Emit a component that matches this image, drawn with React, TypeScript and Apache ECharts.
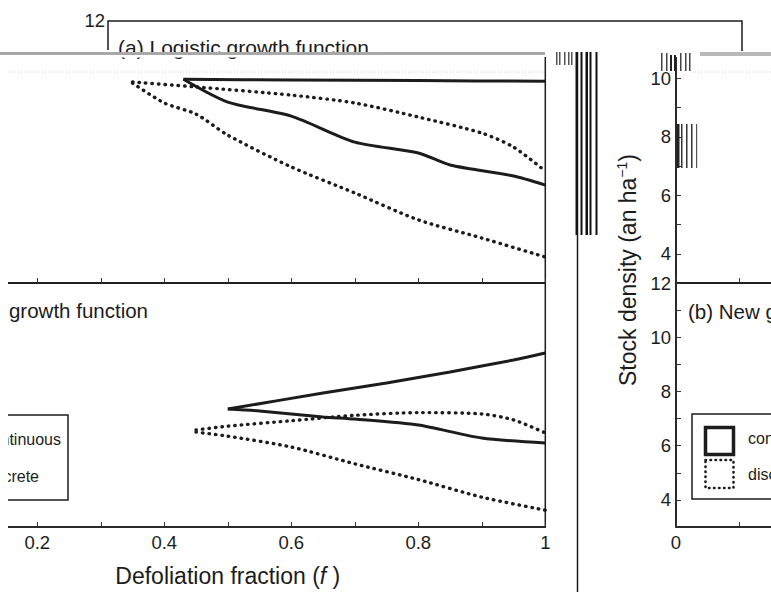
import React, { useEffect, useRef } from 'react';
import * as echarts from 'echarts';

// ---------- data ----------
const xTickLabels = [0, 0.2, 0.4, 0.6, 0.8, 1];
const yTickLabels = [4, 6, 8, 10, 12];

// (a) Logistic growth function
const logisticContinuousUpper: [number, number][] = [[0.43, 9.97], [0.6, 9.95], [0.8, 9.93], [1.0, 9.9]];
const logisticContinuousLower: [number, number][] = [[0.43, 9.97], [0.5, 9.19], [0.6, 8.71], [0.7, 7.82], [0.8, 7.45], [0.85, 7.04], [0.95, 6.66], [1.0, 6.35]];
const logisticDiscreteUpper: [number, number][] = [[0.35, 9.88], [0.45, 9.71], [0.6, 9.43], [0.7, 9.16], [0.8, 8.68], [0.9, 8.13], [0.95, 7.65], [1.0, 6.83]];
const logisticDiscreteLower: [number, number][] = [[0.35, 9.84], [0.4, 9.16], [0.45, 8.78], [0.5, 8.06], [0.6, 6.97], [0.7, 6.08], [0.8, 5.16], [0.9, 4.54], [1.0, 3.89]];

// (b) New growth function
const newContinuousUpper: [number, number][] = [[0.5, 7.35], [0.65, 7.94], [0.75, 8.31], [0.85, 8.72], [0.95, 9.16], [1.0, 9.42]];
const newContinuousLower: [number, number][] = [[0.5, 7.35], [0.55, 7.28], [0.65, 7.06], [0.7, 6.98], [0.8, 6.76], [0.9, 6.28], [1.0, 6.1]];
const newDiscreteUpper: [number, number][] = [[0.45, 6.58], [0.5, 6.72], [0.6, 6.92], [0.7, 7.12], [0.8, 7.22], [0.9, 7.17], [0.95, 6.95], [1.0, 6.47]];
const newDiscreteLower: [number, number][] = [[0.45, 6.5], [0.5, 6.35], [0.6, 5.95], [0.7, 5.33], [0.8, 4.75], [0.9, 4.1], [1.0, 3.62]];

const legendNames = ['continuous', 'discrete'];

const FONT = '"Liberation Sans", Arial, Helvetica, sans-serif';
const INK = '#1c1c1c';

export default function App() {
  const ref = useRef<HTMLDivElement>(null);
  useEffect(() => {
    if (!ref.current) return;
    const chart = echarts.init(ref.current, undefined, { renderer: 'svg' });

    const PW = 635; // plot width in px
    const leftL = -89.7; // wrapped copy (left part of picture)
    const leftR = 676; // original y axis position
    const grids = [
      { left: leftL, top: 20, width: PW, height: 263 },
      { left: leftR, top: 20, width: PW, height: 263 },
      { left: leftL, top: 283, width: PW, height: 244 },
      { left: leftR, top: 283, width: PW, height: 244 },
    ].map((g) => ({
      ...g,
      show: true,
      borderColor: INK,
      borderWidth: 1.5,
      backgroundColor: 'transparent',
      containLabel: false,
      outerBoundsMode: 'none',
    }));

    const xAxis = grids.map((_, i) => ({
      type: 'value',
      gridIndex: i,
      min: 0,
      max: 1,
      interval: 0.1,
      axisLine: { show: true, onZero: false, lineStyle: { color: INK, width: 1.5 } },
      axisTick: { show: true, inside: true, length: 5, lineStyle: { color: '#333', width: 1 } },
      splitLine: { show: false },
      axisLabel: {
        show: i >= 2,
        margin: 6,
        fontSize: 18.5,
        fontFamily: FONT,
        color: INK,
        showMinLabel: true,
        showMaxLabel: true,
        formatter: (v: number) => {
          const r = Math.round(v * 10) / 10;
          return xTickLabels.includes(r) ? String(r) : '';
        },
      },
      name: i === 2 ? 'Defoliation fraction ({i|f} )' : '',
      nameLocation: 'middle',
      nameGap: 37,
      nameTextStyle: {
        fontSize: 23,
        fontFamily: FONT,
        color: INK,
        rich: { i: { fontSize: 23, fontFamily: FONT, fontStyle: 'italic', color: INK } },
      },
    }));

    const yAxis = grids.map((_, i) => ({
      type: 'value',
      gridIndex: i,
      min: 3,
      max: 12,
      interval: 1,
      axisLine: { show: true, onZero: false, lineStyle: { color: INK, width: 1.5 } },
      axisTick: { show: true, inside: true, length: 5, lineStyle: { color: '#333', width: 1 } },
      splitLine: { show: false },
      axisLabel: {
        margin: 5,
        fontSize: 18.5,
        fontFamily: FONT,
        color: INK,
        showMinLabel: true,
        showMaxLabel: true,
        formatter: (v: number) => (yTickLabels.includes(Math.round(v)) ? String(Math.round(v)) : ''),
      },
    }));

    const solid = { color: INK, width: 3, type: 'solid' as const };
    const dotted = { color: INK, width: 3.4, type: [0.5, 6], cap: 'round' as const };
    const panels = [
      [logisticContinuousUpper, logisticContinuousLower, logisticDiscreteUpper, logisticDiscreteLower],
      [newContinuousUpper, newContinuousLower, newDiscreteUpper, newDiscreteLower],
    ];
    const series: any[] = [];
    grids.forEach((_, gi) => {
      const p = panels[gi < 2 ? 0 : 1];
      p.forEach((data, k) => {
        series.push({
          type: 'line',
          name: k < 2 ? legendNames[0] : legendNames[1],
          xAxisIndex: gi,
          yAxisIndex: gi,
          data,
          symbol: 'none',
          showSymbol: false,
          smooth: 0.25,
          lineStyle: k < 2 ? solid : dotted,
          clip: true,
          silent: true,
        });
      });
    });

    const Z = 100;
    const stripe = (x: number, y: number, w: number, h: number, fill = '#111') => ({
      type: 'rect', z: Z + 5, silent: true, shape: { x, y, width: w, height: h }, style: { fill },
    });
    const txt = (x: number, y: number, text: string, size: number, align = 'left', extra: any = {}) => ({
      type: 'text', z: Z + 4, silent: true, x, y,
      style: { text, fontSize: size, fontFamily: FONT, fill: INK, align, verticalAlign: 'middle', textAlign: align, textVerticalAlign: 'middle', ...extra },
    });

    const legendGroup = (ox: number, right: boolean) => {
      const els: any[] = [
        { type: 'rect', shape: { x: 0, y: 0, width: 142, height: 85 }, style: { fill: '#fff', stroke: INK, lineWidth: 1.5 } },
        { type: 'rect', shape: { x: 13.5, y: 13.5, width: 28, height: 27 }, style: { fill: 'none', stroke: INK, lineWidth: 3.5 } },
        { type: 'rect', shape: { x: 13.5, y: 46, width: 28, height: 28 }, style: { fill: 'none', stroke: INK, lineWidth: 2.6, lineDash: [0.5, 4.5], lineCap: 'round' } },
      ];
      if (right) {
        els.push({ type: 'text', x: 56, y: 24, style: { text: legendNames[0], fontSize: 16, fontFamily: FONT, fill: INK, align: 'left', verticalAlign: 'middle' } });
        els.push({ type: 'text', x: 56, y: 60, style: { text: legendNames[1], fontSize: 16, fontFamily: FONT, fill: INK, align: 'left', verticalAlign: 'middle' } });
      } else {
        els.push({ type: 'text', x: 135, y: 24, style: { text: legendNames[0], fontSize: 16, fontFamily: FONT, fill: INK, align: 'right', verticalAlign: 'middle' } });
        els.push({ type: 'text', x: 113, y: 61, style: { text: legendNames[1], fontSize: 16, fontFamily: FONT, fill: INK, align: 'right', verticalAlign: 'middle' } });
      }
      return { type: 'group', x: ox, y: right ? 414 : 415, z: Z, silent: true, children: els };
    };

    const graphic: any[] = [
      // cover of the shifted top band
      { type: 'rect', z: Z, silent: true, shape: { x: 0, y: 0, width: 771, height: 57 }, style: { fill: '#fff' } },
      // shifted top band: frame top of panel (a)
      { type: 'polyline', z: Z + 1, silent: true, shape: { points: [[108, 50], [108, 21], [742, 21], [742, 51]] }, style: { stroke: INK, lineWidth: 1.5, fill: 'none' } },
      txt(105, 20, '12', 18.5, 'right'),
      txt(118, 47, '(a) Logistic growth function', 21, 'left'),
      { type: 'rect', z: Z + 5, silent: true, shape: { x: 100, y: 52.5, width: 300, height: 5 }, style: { fill: '#fff' } },
      // grey smeared band
      { type: 'rect', z: Z + 6, silent: true, shape: { x: 0, y: 52, width: 545, height: 3 }, style: { fill: '#a8a8a8' } },
      { type: 'rect', z: Z + 6, silent: true, shape: { x: 700, y: 52, width: 71, height: 4 }, style: { fill: '#b8b8b8' } },
      { type: 'line', z: Z + 1, silent: true, shape: { x1: 0, y1: 72, x2: 545, y2: 72 }, style: { stroke: '#c8c8c8', lineWidth: 1, lineDash: [1, 2] } },
      { type: 'line', z: Z + 1, silent: true, shape: { x1: 692, y1: 72, x2: 771, y2: 72 }, style: { stroke: '#c8c8c8', lineWidth: 1, lineDash: [1, 2] } },
      // left blank strip (above the wrapped texts)
      { type: 'rect', z: Z + 20, silent: true, shape: { x: 0, y: 57, width: 8, height: 535 }, style: { fill: '#fff' } },
      // seam line and stripes
      { type: 'line', z: Z + 5, silent: true, shape: { x1: 577.5, y1: 52, x2: 577.5, y2: 592 }, style: { stroke: INK, lineWidth: 1.5 } },
      stripe(575.5, 52, 2, 183),
      stripe(580.5, 52, 2, 183),
      stripe(585.5, 52, 2.5, 183),
      stripe(589.5, 52, 2, 183),
      stripe(595.5, 52, 2, 183),
      stripe(556, 52, 1.5, 13, '#555'),
      stripe(559, 52, 1.5, 13, '#555'),
      stripe(564, 52, 1.5, 13, '#555'),
      stripe(568, 52, 1.5, 13, '#555'),
      stripe(571, 52, 1.5, 13, '#555'),
      stripe(661, 53, 1.5, 18, '#444'),
      stripe(666, 53, 1.5, 18, '#444'),
      stripe(670, 55, 2, 16, '#222'),
      stripe(674, 55, 2, 16, '#222'),
      stripe(680, 53, 1.5, 18, '#444'),
      stripe(685, 53, 1.5, 18, '#444'),
      stripe(689, 53, 1.5, 18, '#444'),
      stripe(677, 124, 2.5, 44, '#222'),
      stripe(681, 124, 1.5, 44, '#333'),
      stripe(686, 124, 1.5, 44, '#333'),
      stripe(691, 124, 1.5, 44, '#333'),
      stripe(696, 124, 1.2, 44, '#555'),
      // y axis name
      {
        type: 'text', z: Z + 4, silent: true, x: 628, y: 270, rotation: Math.PI / 2,
        style: {
          text: 'Stock density (an ha{sup|\u22121})', fontSize: 23, fontFamily: FONT, fill: INK,
          align: 'center', verticalAlign: 'middle',
          rich: { sup: { fontSize: 14, fontFamily: FONT, fill: INK, padding: [0, 0, 12, 0] } },
        },
      },
      // panel (b) label, both copies
      txt(688, 311, '(b) New growth function', 20.5, 'left'),
      txt(148, 310, '(b) New growth function', 20.5, 'right'),
      // legend, both copies
      legendGroup(692, true),
      legendGroup(-74, false),
    ];

    chart.setOption({
      animation: false,
      backgroundColor: '#fff',
      grid: grids,
      xAxis,
      yAxis,
      series,
      graphic,
    });
    return () => chart.dispose();
  }, []);

  return <div ref={ref} style={{ position: 'fixed', left: 0, top: 0, width: 771, height: 592 }} />;
}
